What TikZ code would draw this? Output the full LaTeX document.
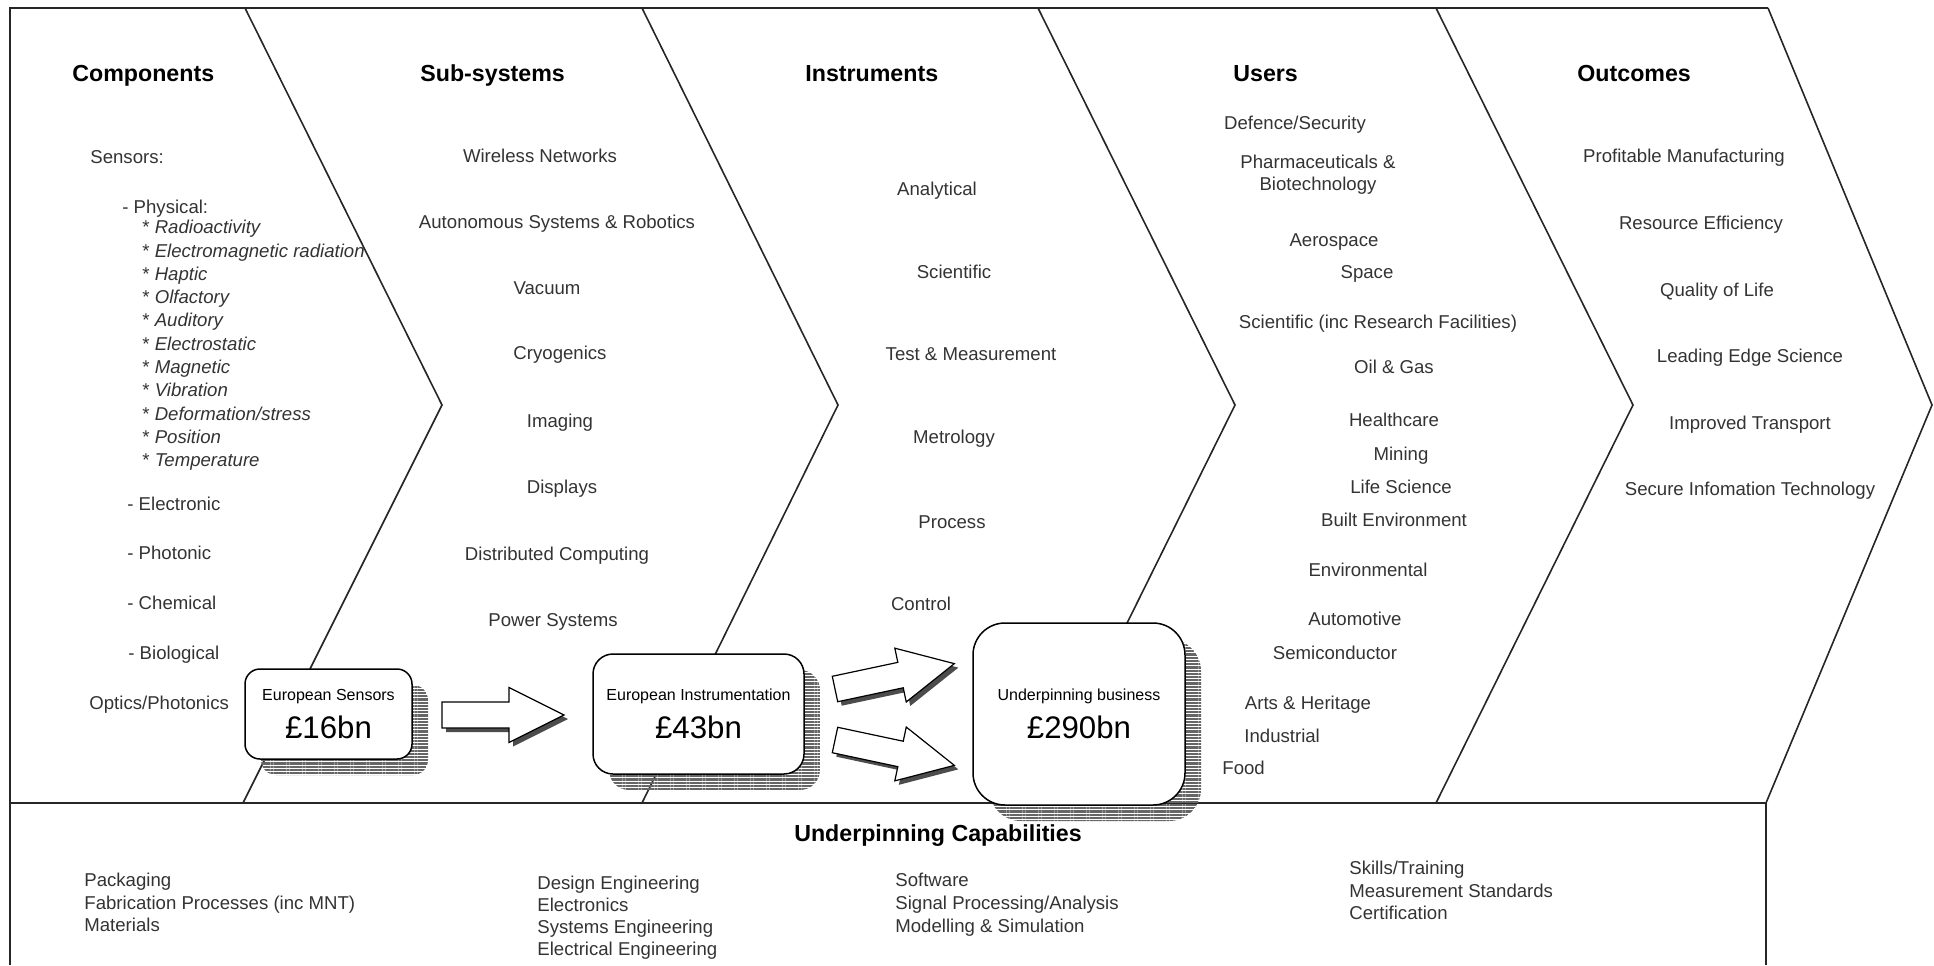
\documentclass[tikz,border=0pt]{standalone}
\usepackage{fontspec}
\setmainfont{Liberation Sans}
\usetikzlibrary{positioning}
\usetikzlibrary{shadows}
\usetikzlibrary{patterns.meta}
\tikzset{item/.style = {inner sep = 0, text = black!80, text height = 6.7pt, text depth = 0pt, font = \fontsize{9.3}{11}\selectfont}}
\tikzset{head/.style = {inner sep = 0, anchor = west, text height = 8.3pt, text depth = 0pt, font = \fontsize{11.6}{14}\selectfont\bfseries}}
\tikzset{box/.style = {draw, fill = white, line width = 0.75pt, inner sep = 0, general shadow = {shadow xshift = 8pt, shadow yshift = -8pt, pattern = {Lines[distance = 1.6pt, line width = 1.1pt]}, pattern color = black!60}}}
\tikzset{boxsmall/.style = {inner sep = 0, text height = 5.8pt, text depth = 0pt, font = \fontsize{8}{10}\selectfont}}
\tikzset{boxbig/.style = {inner sep = 0, text height = 11.2pt, text depth = 0pt, font = \fontsize{15.6}{18}\selectfont}}
\tikzset{blockarrow/.style = {draw, fill = white, line width = 0.6pt, drop shadow = {shadow xshift = 2pt, shadow yshift = -2pt, fill = gray!60!black, opacity = 1}}}
\tikzset{frame/.style = {line width = 0.8pt, black!85}}

\begin{document}
\begin{tikzpicture}[x = 0.5pt, y = -0.5pt]
    \useasboundingbox (0, 0) rectangle (1934, 965);

    \draw [frame] (10, 965) -- (10, 8) -- (1768, 8);
    \draw [frame] (10, 803) -- (1766, 803) -- (1766, 965);
    \draw [frame] (245, 8) -- (442, 405) -- (243, 803);
    \draw [frame] (642, 8) -- (838, 405) -- (642, 803);
    \draw [frame] (1038, 8) -- (1235, 405) -- (1038, 803);
    \draw [frame] (1436, 8) -- (1633, 405) -- (1436, 803);
    \draw [frame] (1768, 8) -- (1932, 405) -- (1766, 803);

    \node (comp-head) [head] at (72, 73) {Components};
    \node (sensors) [item, anchor = west] at (90, 157) {Sensors:};
    \node (physical) [item, anchor = west] at (122, 207) {- Physical:};
    \foreach \txt [count = \i] in {Radioactivity, Electromagnetic radiation, Haptic, Olfactory, Auditory, Electrostatic, Magnetic, Vibration, Deformation/stress, Position, Temperature}
      \node (phys-\i) [item, anchor = west] at (142, 203.7 + 23.3 * \i) {* \textit{\txt}};
    \node (electronic) [item, anchor = west] at (127, 504) {- Electronic};
    \node (photonic) [item, anchor = west] at (127, 553) {- Photonic};
    \node (chemical) [item, anchor = west] at (127, 603) {- Chemical};
    \node (biological) [item, anchor = west] at (128, 653) {- Biological};
    \node (optics) [item, anchor = west] at (89, 703) {Optics/Photonics};

    \node (sub-head) [head] at (420, 73) {Sub-systems};
    \node (wireless) [item] at (540, 156) {Wireless Networks};
    \node (autonomous) [item] at (557, 222) {Autonomous Systems \& Robotics};
    \node (vacuum) [item] at (547, 288) {Vacuum};
    \node (cryogenics) [item] at (560, 353) {Cryogenics};
    \node (imaging) [item] at (560, 421) {Imaging};
    \node (displays) [item] at (562, 487) {Displays};
    \node (distributed) [item] at (557, 554) {Distributed Computing};
    \node (power) [item] at (553, 620) {Power Systems};

    \node (inst-head) [head] at (805, 73) {Instruments};
    \node (analytical) [item] at (937, 189) {Analytical};
    \node (scientific) [item] at (954, 272) {Scientific};
    \node (test) [item] at (971, 354) {Test \& Measurement};
    \node (metrology) [item] at (954, 437) {Metrology};
    \node (process) [item] at (952, 522) {Process};
    \node (control) [item] at (921, 604) {Control};

    \node (users-head) [head] at (1233, 73) {Users};
    \node (defence) [item] at (1295, 123) {Defence/Security};
    \node (pharma) [item] at (1318, 162) {Pharmaceuticals \&};
    \node (biotech) [item] at (1318, 184) {Biotechnology};
    \node (aerospace) [item] at (1334, 240) {Aerospace};
    \node (space) [item] at (1367, 272) {Space};
    \node (research) [item] at (1378, 322) {Scientific (inc Research Facilities)};
    \node (oil) [item] at (1394, 367) {Oil \& Gas};
    \node (healthcare) [item] at (1394, 420) {Healthcare};
    \node (mining) [item] at (1401, 454) {Mining};
    \node (life) [item] at (1401, 487) {Life Science};
    \node (built) [item] at (1394, 520) {Built Environment};
    \node (environmental) [item] at (1368, 570) {Environmental};
    \node (automotive) [item] at (1355, 619) {Automotive};
    \node (semiconductor) [item] at (1335, 653) {Semiconductor};
    \node (arts) [item] at (1308, 703) {Arts \& Heritage};
    \node (industrial) [item, anchor = west] at (1244, 736) {Industrial};
    \node (food) [item, anchor = west] at (1222, 768) {Food};

    \node (out-head) [head] at (1577, 73) {Outcomes};
    \node (profitable) [item] at (1684, 156) {Profitable Manufacturing};
    \node (resource) [item] at (1701, 223) {Resource Efficiency};
    \node (quality) [item] at (1717, 290) {Quality of Life};
    \node (leading) [item] at (1750, 356) {Leading Edge Science};
    \node (transport) [item] at (1750, 423) {Improved Transport};
    \node (secure) [item] at (1750, 489) {Secure Infomation Technology};

    \node (cap-head) [head, anchor = center] at (938, 833) {Underpinning Capabilities};
    \foreach \txt [count = \i] in {Packaging, Fabrication Processes (inc MNT), Materials}
      \node (capa-\i) [item, anchor = west] at (84, 857.5 + 22.5 * \i) {\txt};
    \foreach \txt [count = \i] in {Design Engineering, Electronics, Systems Engineering, Electrical Engineering}
      \node (capb-\i) [item, anchor = west] at (537, 861 + 22 * \i) {\txt};
    \foreach \txt [count = \i] in {Software, Signal Processing/Analysis, Modelling \& Simulation}
      \node (capc-\i) [item, anchor = west] at (895, 856.5 + 23 * \i) {\txt};
    \foreach \txt [count = \i] in {Skills/Training, Measurement Standards, Certification}
      \node (capd-\i) [item, anchor = west] at (1349, 845.5 + 22.5 * \i) {\txt};

    \begin{scope}[shift = {(442, 715)}]
      \draw [blockarrow] (0, -13) -- (67, -13) -- (67, -27.5) -- (122, 0) -- (67, 27.5) -- (67, 13) -- (0, 13) -- cycle;
    \end{scope}
    \begin{scope}[shift = {(835, 689)}, rotate = 12]
      \draw [blockarrow] (0, -13) -- (67, -13) -- (67, -27.5) -- (122, 0) -- (67, 27.5) -- (67, 13) -- (0, 13) -- cycle;
    \end{scope}
    \begin{scope}[shift = {(835, 740)}, rotate = -12]
      \draw [blockarrow] (0, -13) -- (67, -13) -- (67, -27.5) -- (122, 0) -- (67, 27.5) -- (67, 13) -- (0, 13) -- cycle;
    \end{scope}

    \node (eu-sensors) [box, rounded corners = 7.5pt, minimum width = 83.5pt, minimum height = 45pt] at (328.5, 714) {};
    \node (eu-sensors-name) [boxsmall] at ([yshift = 9.5pt] eu-sensors.center) {European Sensors};
    \node (eu-sensors-value) [boxbig] at ([yshift = -6.5pt] eu-sensors.center) {£16bn};

    \node (eu-inst) [box, rounded corners = 10pt, minimum width = 105.5pt, minimum height = 60pt] at (698.5, 714) {};
    \node (eu-inst-name) [boxsmall] at ([yshift = 9.5pt] eu-inst.center) {European Instrumentation};
    \node (eu-inst-value) [boxbig] at ([yshift = -6.5pt] eu-inst.center) {£43bn};

    \node (business) [box, rounded corners = 16pt, minimum width = 106pt, minimum height = 91pt] at (1079, 714) {};
    \node (business-name) [boxsmall] at ([yshift = 9.5pt] business.center) {Underpinning business};
    \node (business-value) [boxbig] at ([yshift = -6.5pt] business.center) {£290bn};
\end{tikzpicture}
\end{document}
